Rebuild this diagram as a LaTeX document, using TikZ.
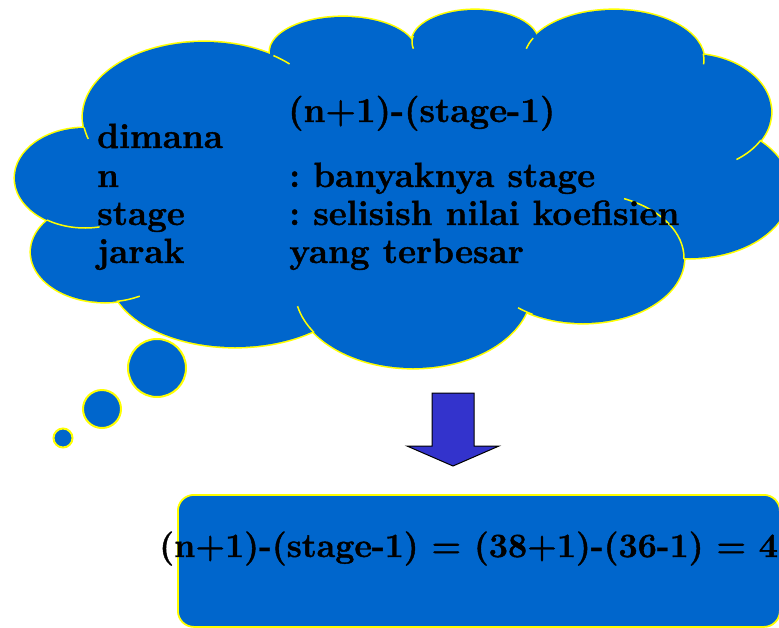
\documentclass[tikz,border=0pt]{standalone}
\usepackage{fontspec}
\setmainfont{Latin Modern Roman}[BoldFeatures={FakeBold=1.2}]
\definecolor{cblue}{HTML}{0066CC}
\definecolor{cyel}{HTML}{FFFF00}
\definecolor{aviolet}{HTML}{3333CC}
\newcommand{\lobestroke}[4]{\draw[lobeline] (#1,#2) ellipse [x radius=#3, y radius=#4];}
\newcommand{\lobefill}[4]{\fill[cblue] (#1,#2) ellipse [x radius=#3, y radius=#4];}
\newcommand{\lobetail}[6]{\draw[tailline] (#1,#2) ++(#5:#3 and #4) arc[start angle=#5, end angle=#6, x radius=#3, y radius=#4];}
\tikzset{
  lobeline/.style={draw=cyel, line width=3.2pt},
  tailline/.style={draw=cyel, line width=1.5pt},
  bubble/.style={circle, draw=cyel, fill=cblue, line width=2pt, inner sep=0pt},
  cloudtext/.style={anchor=base west, inner sep=0pt, font=\bfseries\fontsize{35}{40}\selectfont},
  eqtext/.style={anchor=base west, inner sep=0pt, font=\bfseries\fontsize{34}{40}\selectfont},
  downarrow/.style={draw=black, fill=aviolet, line width=1pt, line join=miter},
  resultbox/.style={draw=cyel, fill=cblue, line width=1.8pt, rounded corners=16pt, anchor=north west, inner sep=0pt}
}
\frenchspacing
\begin{document}
\begin{tikzpicture}[x=1pt,y=-1pt]
\useasboundingbox (0,0) rectangle (779,627);
\clip (0,0) rectangle (779,627);
% thought bubbles
\node[bubble, minimum size=58pt] (b1) at (157,368) {};
\node[bubble, minimum size=38pt] (b2) at (102,409) {};
\node[bubble, minimum size=19pt] (b3) at (63,438) {};
% cloud outline (stroke then fill)
\lobestroke{85}{178}{70}{50}
\lobestroke{204}{117}{121}{75}
\lobestroke{343}{52}{73}{35}
\lobestroke{475}{42}{63}{32}
\lobestroke{614}{60}{90}{50}
\lobestroke{690}{112}{81}{58}
\lobestroke{690}{190}{100}{68}
\lobestroke{583}{258}{101}{65}
\lobestroke{413}{290}{118}{78}
\lobestroke{235}{275}{125}{72}
\lobestroke{105}{252}{74}{50}
\lobefill{85}{178}{70}{50}
\lobefill{204}{117}{121}{75}
\lobefill{343}{52}{73}{35}
\lobefill{475}{42}{63}{32}
\lobefill{614}{60}{90}{50}
\lobefill{690}{112}{81}{58}
\lobefill{690}{190}{100}{68}
\lobefill{583}{258}{101}{65}
\lobefill{413}{290}{118}{78}
\lobefill{235}{275}{125}{72}
\lobefill{105}{252}{74}{50}
\lobefill{420}{185}{290}{115}
\lobefill{450}{120}{200}{80}
% inner tails of the cloud
\lobetail{85}{178}{70}{50}{123}{78}
\lobetail{204}{117}{121}{75}{172}{163}
\lobetail{204}{117}{121}{75}{305}{315}
\lobetail{475}{42}{63}{32}{191}{168}
\lobetail{614}{60}{90}{50}{206}{193}
\lobetail{614}{60}{90}{50}{-7}{5}
\lobetail{690}{112}{81}{58}{29}{55}
\lobetail{583}{258}{101}{65}{-66}{1}
\lobetail{583}{258}{101}{65}{120}{130}
\lobetail{413}{290}{118}{78}{147}{168}
\lobetail{105}{252}{74}{50}{81}{62}
% cloud text
\node[cloudtext] (title) at (288,122) {(n+1)-(stage-1)};
\node[cloudtext] (dimana) at (97,148) {dimana};
\node[cloudtext] (n) at (97,187) {n};
\node[cloudtext] (stage) at (97,225) {stage};
\node[cloudtext] (jarak) at (97,263) {jarak};
\node[cloudtext] (dn) at (289,187) {: banyaknya stage};
\node[cloudtext] (dstage) at (289,225) {: selisish nilai koefisien};
\node[cloudtext] (djarak) at (289,263) {yang terbesar};
% arrow
\draw[downarrow] (432,393) -- (474,393) -- (474,446) -- (499,446) -- (453,466) -- (407,446) -- (432,446) -- cycle;
% result box
\node[resultbox, minimum width=602pt, minimum height=132pt] (box) at (177,494) {};
\node[eqtext] (eq) at (159,557) {(n+1)-(stage-1) = (38+1)-(36-1) = 4};
\end{tikzpicture}
\end{document}
